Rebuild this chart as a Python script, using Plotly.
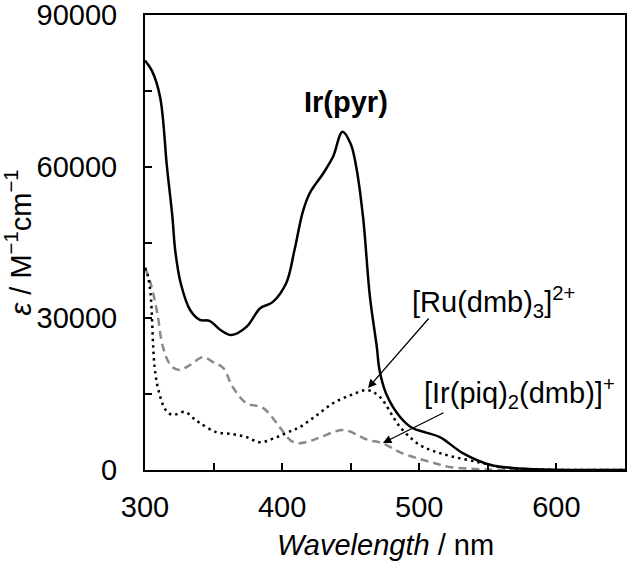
import plotly.graph_objects as go

# Ir(pyr) - solid black
ir_pyr_wl = [300, 305, 311, 316, 320, 322, 326, 333, 340, 347, 355, 363, 374, 384, 393, 403, 409, 415, 420,
             430, 437, 444, 450, 454, 459, 464, 469, 471, 476, 486, 495, 505, 515, 532, 552, 568, 590, 650]
ir_pyr_eps = [81000, 79000, 73800, 60000, 50000, 43500, 37000, 31600, 29700, 29500, 27700, 26700, 28300, 32000,
              33200, 37000, 43500, 51000, 54700, 58700, 61900, 66900, 64500, 60000, 50000, 34300, 24400, 19800,
              15000, 10500, 8300, 7400, 6500, 3300, 1000, 400, 100, 0]

# [Ru(dmb)3]2+ - dotted black
ru_wl = [300, 302, 304, 307, 310, 315, 320, 329, 335, 340, 352, 364, 374, 384, 396, 408, 413, 425, 437, 450, 462,
         471, 486, 500, 510, 522, 544, 560, 580, 650]
ru_eps = [40000, 38500, 35000, 20400, 15600, 11900, 10900, 11500, 10300, 9300, 7500, 7100, 6500, 5500, 6500, 7900,
          8500, 10800, 13200, 14800, 15800, 14500, 8500, 5000, 3800, 2800, 1500, 600, 150, 0]

# [Ir(piq)2(dmb)]+ - dashed grey
piq_wl = [300, 304, 309, 313, 319, 325, 333, 342, 350, 357, 364, 374, 386, 396, 406, 412, 420, 428, 445, 462,
          473, 486, 500, 512, 522, 544, 570, 650]
piq_eps = [40000, 37000, 31000, 24400, 20600, 19800, 20800, 22300, 21300, 20200, 16400, 13200, 12300, 9300, 5900,
           5300, 5700, 6500, 7900, 6000, 5300, 3500, 2200, 1300, 600, 150, 0, 0]

FONT = "Arial, Liberation Sans, sans-serif"

fig = go.Figure()
fig.add_trace(go.Scatter(x=piq_wl, y=piq_eps, mode="lines", line=dict(color="#8a8a8a", width=2.5, dash="8px,5px", shape="spline", smoothing=1)))
fig.add_trace(go.Scatter(x=ru_wl, y=ru_eps, mode="lines", line=dict(color="black", width=2.5, dash="2.5px,4px", shape="spline", smoothing=1)))
fig.add_trace(go.Scatter(x=ir_pyr_wl, y=ir_pyr_eps, mode="lines", line=dict(color="black", width=2.5, shape="spline", smoothing=1)))

axis_style = dict(showline=True, linecolor="black", linewidth=2, mirror=True, ticks="inside", ticklen=7,
                  tickwidth=1.5, tickcolor="black", showgrid=False, zeroline=False, automargin=False,
                  ticklabeloverflow="allow", tickfont=dict(family=FONT, size=29, color="black"))

fig.update_xaxes(range=[300, 650], tickvals=[300, 350, 400, 450, 500, 550, 600, 650],
                 ticktext=["300", "", "400", "", "500", "", "600", ""], ticklabelstandoff=10, **axis_style)
fig.update_yaxes(range=[0, 90000], tickvals=[0, 15000, 30000, 45000, 60000, 75000, 90000],
                 ticktext=["0", "", "30000", "", "60000", "", "90000"], ticklabelstandoff=20, **axis_style)

fig.add_annotation(x=446.6, y=72800, text="<b>Ir(pyr)</b>", showarrow=False, font=dict(family=FONT, size=29, color="black"))
fig.add_annotation(x=553.8, y=33230, text="[Ru(dmb)<sub>3</sub>]<sup>2+</sup>", showarrow=False, font=dict(family=FONT, size=29, color="black"))
fig.add_annotation(x=573.4, y=15230, text="[Ir(piq)<sub>2</sub>(dmb)]<sup>+</sup>", showarrow=False, font=dict(family=FONT, size=29, color="black"))

# arrows
fig.add_annotation(x=462.6, y=16220, ax=507.8, ay=30260, axref="x", ayref="y", text="", showarrow=True,
                   arrowhead=2, arrowsize=1.3, arrowwidth=1.3, arrowcolor="black")
fig.add_annotation(x=473.5, y=5340, ax=518.8, ay=11470, axref="x", ayref="y", text="", showarrow=True,
                   arrowhead=2, arrowsize=1.3, arrowwidth=1.3, arrowcolor="black")

# axis titles
fig.add_annotation(x=-0.2646, y=0.5, xref="paper", yref="paper", xanchor="center", yanchor="middle",
                   textangle=-90, showarrow=False,
                   text="<i>ε</i> / M<sup>−1</sup>cm<sup>−1</sup>", font=dict(family=FONT, size=29, color="black"))
fig.add_annotation(x=0.5, y=-0.165, xref="paper", yref="paper", xanchor="center", yanchor="middle",
                   showarrow=False,
                   text="<i>Wavelength</i> / nm", font=dict(family=FONT, size=29, color="black"))

fig.update_layout(width=630, height=565, margin=dict(l=145, r=5, t=15, b=95), showlegend=False,
                  plot_bgcolor="white", paper_bgcolor="white")

# drop the default 8px page margin so the figure fills the window
fig.write_html("out.html", config={"displayModeBar": False},
               post_script="document.body.style.margin='0';")
